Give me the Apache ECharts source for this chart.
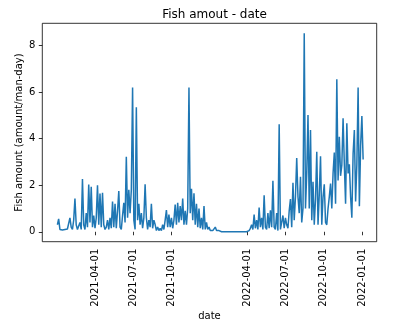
<!DOCTYPE html>
<html>
<head>
<meta charset="utf-8">
<script src="https://cdn.jsdelivr.net/npm/echarts@6/dist/echarts.min.js"></script>
<style>
  html, body { margin: 0; padding: 0; background: #fff; }
  #chart { width: 397px; height: 329px; }
</style>
</head>
<body>
<div id="chart"></div>
<script>
// Daily catch rate, sampled every 3 days from 2021-01-01
const seriesStart = Date.UTC(2021, 0, 1);
const stepDays = 3;
const fishAmount = [
  0.3, 0.55, 0.1, 0.05, 0.08, 0.03, 0.1, 0.05, 0.12, 0.05,
  0.6, 0.2, 0.1, 0.5, 1.43, 0.3, 0.1, 0.05, 0.4, 0.1,
  2.26, 0.3, 0.1, 0.8, 0.2, 2.03, 0.4, 1.93, 0.2, 0.7,
  0.15, 0.6, 2.0, 0.3, 1.64, 0.2, 1.67, 0.3, 0.1, 0.2,
  0.5, 0.1, 0.6, 0.15, 1.3, 0.2, 1.2, 0.15, 0.9, 1.75,
  0.2, 0.1, 0.7, 1.24, 0.4, 3.22, 0.6, 1.8, 0.8, 1.8,
  6.19, 0.5, 0.1, 5.34, 0.5, 1.2, 0.3, 0.8, 0.15, 0.6,
  2.04, 0.6, 0.1, 0.5, 0.2, 1.2, 0.15, 0.5, 0.31, 0.05,
  0.2, 0.05, 0.15, 0.05, 0.3, 0.1, 0.5, 0.93, 0.2, 0.74,
  0.2, 0.6, 0.15, 0.5, 1.17, 0.3, 1.24, 0.4, 1.1, 0.5,
  1.43, 0.3, 0.9, 0.3, 1.0, 6.19, 0.8, 1.84, 0.5, 1.65,
  0.3, 1.2, 0.2, 1.0, 0.15, 0.6, 0.1, 1.1, 0.1, 0.4,
  0.1, 0.2, 0.05, 0.02, 0.05, 0.1, 0.2, 0.05, 0.03, 0.05,
  0.01, 0, 0, 0, 0, 0, 0, 0, 0, 0,
  0, 0, 0, 0, 0, 0, 0, 0, 0, 0,
  0, 0, 0.02, 0.05, 0.15, 0.3, 0.1, 0.74, 0.15, 0.5,
  0.1, 1.04, 0.2, 0.6, 0.1, 1.57, 0.2, 0.1, 0.8, 0.15,
  0.92, 0.2, 2.19, 0.2, 0.1, 0.8, 0.05, 4.61, 0.1, 0.4,
  0.7, 0.15, 0.6, 0.3, 0.15, 0.9, 1.4, 0.2, 2.1, 0.5,
  1.5, 3.17, 1.5, 0.8, 2.36, 0.4, 1.0, 8.52, 1.0, 2.5,
  5.01, 1.0, 4.37, 0.5, 2.15, 0.3, 1.4, 3.43, 0.3, 1.6,
  3.24, 0.3, 1.5, 2.04, 0.4, 0.3, 1.0, 1.5, 2.07, 1.0,
  2.5, 3.4, 1.2, 6.54, 2.2, 4.08, 2.4, 2.86, 4.87, 2.9,
  1.2, 4.66, 2.5, 2.9, 1.5, 0.6, 3.35, 4.37, 1.3, 2.9,
  6.19, 1.1, 3.7, 4.97, 3.1
];

// Date ticks along the x axis and the text printed under each
const tickDates = [
  Date.UTC(2021, 3, 1), Date.UTC(2021, 6, 1), Date.UTC(2021, 9, 1),
  Date.UTC(2022, 3, 1), Date.UTC(2022, 6, 1), Date.UTC(2022, 9, 1),
  Date.UTC(2023, 0, 1)
];
const tickLabels = [
  '2021-04-01', '2021-07-01', '2021-10-01',
  '2022-04-01', '2022-07-01', '2022-10-01',
  '2022-01-01'
];
const yTicks = [0, 2, 4, 6, 8];

const DAY = 86400000;
const points = fishAmount.map((v, i) => [seriesStart + i * stepDays * DAY, v]);

const font = 'DejaVu Sans';
const chart = echarts.init(document.getElementById('chart'), null, { renderer: 'canvas' });
chart.setOption({
  animation: false,
  backgroundColor: '#fff',
  title: {
    text: 'Fish amout - date',
    left: 209.5,
    top: 4,
    textAlign: 'center',
    textStyle: { fontFamily: font, fontSize: 12, fontWeight: 'normal', color: '#000' }
  },
  grid: {
    left: 42.3, right: 20.3, top: 23.3, bottom: 87.3,
    show: true, borderColor: '#000', borderWidth: 0.8, backgroundColor: 'transparent'
  },
  xAxis: {
    type: 'value',
    min: Date.UTC(2020, 10, 25, 20),
    max: Date.UTC(2023, 1, 4, 12),
    name: 'date',
    nameLocation: 'middle',
    nameGap: 70,
    nameMoveOverlap: false,
    nameTextStyle: { fontFamily: font, fontSize: 10, color: '#000' },
    axisLine: { show: false },
    splitLine: { show: false },
    axisTick: { show: true, inside: false, length: 3.5, customValues: tickDates,
      lineStyle: { color: '#000', width: 0.8 } },
    axisLabel: {
      customValues: tickDates,
      rotate: 90,
      margin: 7,
      fontFamily: font, fontSize: 10, color: '#000',
      formatter: (v) => {
        const k = tickDates.indexOf(v);
        return k >= 0 ? tickLabels[k] : '';
      }
    }
  },
  yAxis: {
    type: 'value',
    min: -0.426,
    max: 8.946,
    name: 'Fish amount (amount/man-day)',
    nameLocation: 'middle',
    nameGap: 18,
    nameMoveOverlap: false,
    nameTextStyle: { fontFamily: font, fontSize: 10, color: '#000' },
    axisLine: { show: false },
    splitLine: { show: false },
    axisTick: { show: true, inside: false, length: 3.5, customValues: yTicks,
      lineStyle: { color: '#000', width: 0.8 } },
    axisLabel: {
      customValues: yTicks,
      margin: 7,
      fontFamily: font, fontSize: 10, color: '#000'
    }
  },
  series: [{
    type: 'line',
    data: points,
    showSymbol: false,
    lineStyle: { color: '#1f77b4', width: 1.5 },
    itemStyle: { color: '#1f77b4' }
  }]
});
</script>
</body>
</html>
